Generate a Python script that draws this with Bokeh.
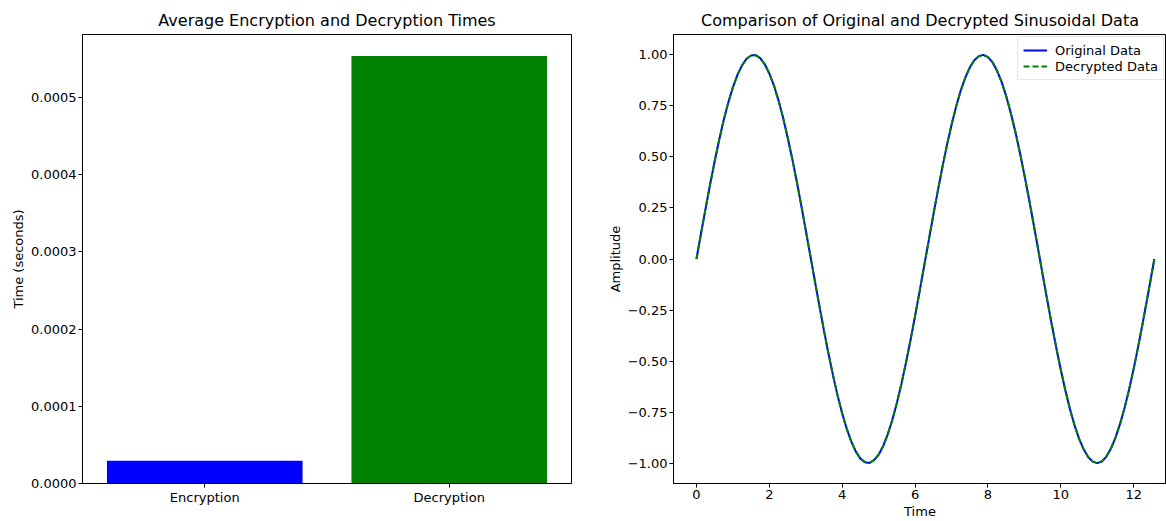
from bokeh.plotting import figure
from bokeh.layouts import row
from bokeh.models import FixedTicker, PrintfTickFormatter, Range1d, FactorRange, Legend, LegendItem, ColumnDataSource
from bokeh.embed import file_html
from bokeh.resources import INLINE

# ---- data ----
operations = ["Encryption", "Decryption"]
avg_times = [0.0000296, 0.000554]
bar_colors = ["#0000ff", "#008000"]

time_values = [0.0, 0.125, 0.25, 0.375, 0.5, 0.625, 0.75, 0.875, 1.0, 1.125, 1.25, 1.375,
               1.5, 1.625, 1.75, 1.875, 2.0, 2.125, 2.25, 2.375, 2.5, 2.625, 2.75, 2.875,
               3.0, 3.125, 3.25, 3.375, 3.5, 3.625, 3.75, 3.875, 4.0, 4.125, 4.25, 4.375,
               4.5, 4.625, 4.75, 4.875, 5.0, 5.125, 5.25, 5.375, 5.5, 5.625, 5.75, 5.875,
               6.0, 6.125, 6.25, 6.375, 6.5, 6.625, 6.75, 6.875, 7.0, 7.125, 7.25, 7.375,
               7.5, 7.625, 7.75, 7.875, 8.0, 8.125, 8.25, 8.375, 8.5, 8.625, 8.75, 8.875,
               9.0, 9.125, 9.25, 9.375, 9.5, 9.625, 9.75, 9.875, 10.0, 10.125, 10.25, 10.375,
               10.5, 10.625, 10.75, 10.875, 11.0, 11.125, 11.25, 11.375, 11.5, 11.625, 11.75,
               11.875, 12.0, 12.125, 12.25, 12.375, 12.5, 12.566]
original_data = [0.0, 0.125, 0.247, 0.366, 0.479, 0.585, 0.682, 0.768, 0.841, 0.902, 0.949,
                 0.981, 0.997, 0.999, 0.984, 0.954, 0.909, 0.851, 0.778, 0.694, 0.598, 0.494,
                 0.382, 0.264, 0.141, 0.017, -0.108, -0.231, -0.351, -0.465, -0.572, -0.670,
                 -0.757, -0.832, -0.895, -0.944, -0.978, -0.996, -0.999, -0.986, -0.959,
                 -0.916, -0.859, -0.789, -0.706, -0.612, -0.508, -0.397, -0.279, -0.158,
                 -0.033, 0.091, 0.215, 0.335, 0.450, 0.558, 0.657, 0.746, 0.824, 0.887, 0.938,
                 0.974, 0.994, 1.000, 0.989, 0.964, 0.922, 0.868, 0.798, 0.717, 0.625, 0.523,
                 0.412, 0.295, 0.174, 0.050, -0.075, -0.199, -0.320, -0.435, -0.544, -0.644,
                 -0.735, -0.814, -0.880, -0.932, -0.970, -0.993, -1.000, -0.992, -0.968,
                 -0.929, -0.875, -0.808, -0.729, -0.638, -0.537, -0.427, -0.311, -0.190,
                 -0.066, 0.0]
decrypted_data = [0.0, 0.125, 0.247, 0.366, 0.479, 0.585, 0.682, 0.768, 0.841, 0.902, 0.949,
                  0.981, 0.997, 0.999, 0.984, 0.954, 0.909, 0.851, 0.778, 0.694, 0.598, 0.494,
                  0.382, 0.264, 0.141, 0.017, -0.108, -0.231, -0.351, -0.465, -0.572, -0.670,
                  -0.757, -0.832, -0.895, -0.944, -0.978, -0.996, -0.999, -0.986, -0.959,
                  -0.916, -0.859, -0.789, -0.706, -0.612, -0.508, -0.397, -0.279, -0.158,
                  -0.033, 0.091, 0.215, 0.335, 0.450, 0.558, 0.657, 0.746, 0.824, 0.887, 0.938,
                  0.974, 0.994, 1.000, 0.989, 0.964, 0.922, 0.868, 0.798, 0.717, 0.625, 0.523,
                  0.412, 0.295, 0.174, 0.050, -0.075, -0.199, -0.320, -0.435, -0.544, -0.644,
                  -0.735, -0.814, -0.880, -0.932, -0.970, -0.993, -1.000, -0.992, -0.968,
                  -0.929, -0.875, -0.808, -0.729, -0.638, -0.537, -0.427, -0.311, -0.190,
                  -0.066, 0.0]

bar_ticks = [0.0, 0.0001, 0.0002, 0.0003, 0.0004, 0.0005]
x_ticks = [0, 2, 4, 6, 8, 10, 12]
y_ticks = [-1.0, -0.75, -0.5, -0.25, 0.0, 0.25, 0.5, 0.75, 1.0]

FONT = "DejaVu Sans"


def style(p):
    p.title.text_font = FONT
    p.title.text_font_size = "16px"
    p.title.text_font_style = "normal"
    p.title.align = "center"
    p.title.text_color = "#000000"
    p.outline_line_color = "#000000"
    p.outline_line_width = 1
    p.xgrid.visible = False
    p.ygrid.visible = False
    p.background_fill_color = "white"
    p.border_fill_color = "white"
    for ax in p.axis:
        ax.major_label_text_font = FONT
        ax.major_label_text_font_size = "13px"
        ax.major_label_text_color = "#000000"
        ax.axis_label_text_font = FONT
        ax.axis_label_text_font_size = "13px"
        ax.axis_label_text_font_style = "normal"
        ax.axis_label_text_color = "#000000"
        ax.axis_line_color = "#000000"
        ax.major_tick_line_color = "#000000"
        ax.major_tick_out = 4
        ax.major_tick_in = 0
        ax.minor_tick_line_color = None
        ax.major_label_standoff = 2
        ax.axis_label_standoff = 2


H = 521

# ---- left: bar chart ----
ymax = max(avg_times) * 1.05
p1 = figure(x_range=FactorRange(*operations, range_padding=0.0), y_range=Range1d(0, ymax),
            width=600, height=H, output_backend="svg", toolbar_location=None,
            title="Average Encryption and Decryption Times",
            min_border_left=82, min_border_right=29, min_border_top=34, min_border_bottom=20)
src = ColumnDataSource(dict(x=operations, top=avg_times, color=bar_colors))
p1.vbar(x="x", top="top", width=0.8, color="color", source=src, line_color=None)
p1.yaxis.ticker = FixedTicker(ticks=bar_ticks)
p1.yaxis.formatter = PrintfTickFormatter(format="%.4f")
p1.yaxis.axis_label = "Time (seconds)"
style(p1)

# ---- right: line chart ----
p2 = figure(x_range=Range1d(-0.63, 12.9), y_range=Range1d(-1.1, 1.1),
            width=566, height=H, output_backend="svg", toolbar_location=None,
            title="Comparison of Original and Decrypted Sinusoidal Data",
            min_border_left=73, min_border_right=0, min_border_top=34, min_border_bottom=20)
l1 = p2.line(time_values, original_data, line_color="#0000ff", line_width=2)
l2 = p2.line(time_values, decrypted_data, line_color="#008000", line_width=2, line_dash="6 3")
p2.xaxis.ticker = FixedTicker(ticks=x_ticks)
p2.yaxis.ticker = FixedTicker(ticks=y_ticks)
p2.yaxis.formatter = PrintfTickFormatter(format="%.2f")
p2.yaxis.major_label_overrides = {t: ("\u2212%.2f" % abs(t)) for t in y_ticks if t < 0}
p2.xaxis.axis_label = "Time"
p2.yaxis.axis_label = "Amplitude"
style(p2)
legend = Legend(items=[LegendItem(label="Original Data", renderers=[l1]),
                       LegendItem(label="Decrypted Data", renderers=[l2])],
                location="top_right")
legend.label_text_font = FONT
legend.label_text_font_size = "13px"
legend.label_text_color = "#000000"
legend.border_line_color = "#cccccc"
legend.background_fill_alpha = 0.8
legend.glyph_width = 24
legend.spacing = 0
legend.padding = 5
legend.margin = 2
legend.label_standoff = 8
legend.label_height = 16
legend.glyph_height = 16
p2.add_layout(legend)

layout = row(p1, p2, spacing=0)
open("out.html", "w").write(file_html(layout, INLINE))
